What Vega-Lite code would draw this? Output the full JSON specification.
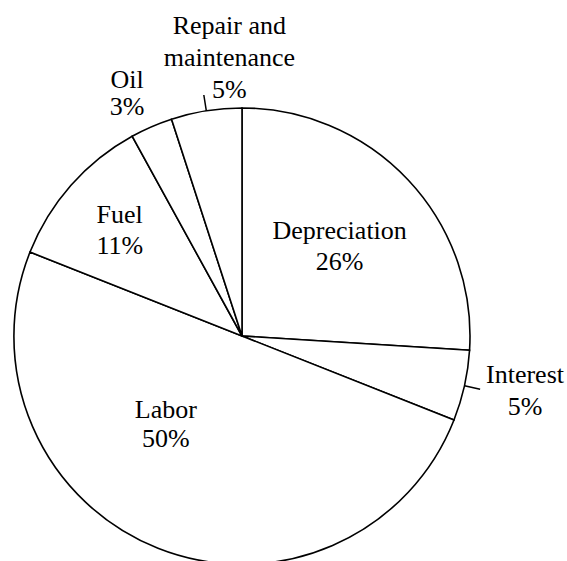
{
  "$schema": "https://vega.github.io/schema/vega-lite/v6.json",
  "autosize": "none",
  "padding": {"left": 0, "top": 0, "right": 83, "bottom": 0},
  "width": 484,
  "height": 672,
  "background": "white",
  "config": {"view": {"stroke": null}},
  "data": {
    "values": [
      {"idx": 1, "cat": "Depreciation", "value": 26, "label": "Depreciation\n26%"},
      {"idx": 2, "cat": "Interest", "value": 5, "label": "Interest\n5%"},
      {"idx": 3, "cat": "Labor", "value": 50, "label": "Labor\n50%"},
      {"idx": 4, "cat": "Fuel", "value": 11, "label": "Fuel\n11%"},
      {"idx": 5, "cat": "Oil", "value": 3, "label": "Oil\n3%"},
      {"idx": 6, "cat": "Repair", "value": 5, "label": "Repair and\nmaintenance\n5%"}
    ]
  },
  "encoding": {
    "theta": {"field": "value", "type": "quantitative", "stack": true, "scale": {"type": "linear", "zero": true}},
    "order": {"field": "idx", "type": "quantitative", "sort": "ascending"}
  },
  "layer": [
    {
      "mark": {"type": "arc", "radius": 228, "fill": "white", "stroke": "black", "strokeWidth": 1.6}
    },
    {
      "mark": {"type": "arc", "radius": 228, "radius2": 244, "padAngle": 0.8, "fill": null, "strokeWidth": 1.5},
      "encoding": {"stroke": {"condition": {"test": "datum.cat === 'Repair' || datum.cat === 'Interest'", "value": "black"}, "value": null}}
    },
    {
      "mark": {"type": "text", "radius": 134, "dy": -13, "font": "Liberation Serif", "fontSize": 26, "lineHeight": 31, "lineBreak": "\n", "align": "center", "baseline": "middle", "color": "black"},
      "encoding": {"text": {"condition": {"test": "datum.cat === 'Depreciation'", "field": "label"}, "value": ""}}
    },
    {
      "mark": {"type": "text", "radius": 109, "dx": -36, "dy": -27, "font": "Liberation Serif", "fontSize": 26, "lineHeight": 29, "lineBreak": "\n", "align": "center", "baseline": "middle", "color": "black"},
      "encoding": {"text": {"condition": {"test": "datum.cat === 'Labor'", "field": "label"}, "value": ""}}
    },
    {
      "mark": {"type": "text", "radius": 163, "dy": -13, "font": "Liberation Serif", "fontSize": 26, "lineHeight": 31, "lineBreak": "\n", "align": "center", "baseline": "middle", "color": "black"},
      "encoding": {"text": {"condition": {"test": "datum.cat === 'Fuel'", "field": "label"}, "value": ""}}
    },
    {
      "mark": {"type": "text", "radius": 269, "dx": -8, "dy": -9, "font": "Liberation Serif", "fontSize": 26, "lineHeight": 27, "lineBreak": "\n", "align": "center", "baseline": "middle", "color": "black"},
      "encoding": {"text": {"condition": {"test": "datum.cat === 'Oil'", "field": "label"}, "value": ""}}
    },
    {
      "mark": {"type": "text", "radius": 279, "dx": 31, "dy": -34, "font": "Liberation Serif", "fontSize": 26, "lineHeight": 32, "lineBreak": "\n", "align": "center", "baseline": "middle", "color": "black"},
      "encoding": {"text": {"condition": {"test": "datum.cat === 'Repair'", "field": "label"}, "value": ""}}
    },
    {
      "mark": {"type": "text", "radius": 290, "dy": -24, "font": "Liberation Serif", "fontSize": 26, "lineHeight": 32, "lineBreak": "\n", "align": "center", "baseline": "middle", "color": "black"},
      "encoding": {"text": {"condition": {"test": "datum.cat === 'Interest'", "field": "label"}, "value": ""}}
    }
  ]
}
